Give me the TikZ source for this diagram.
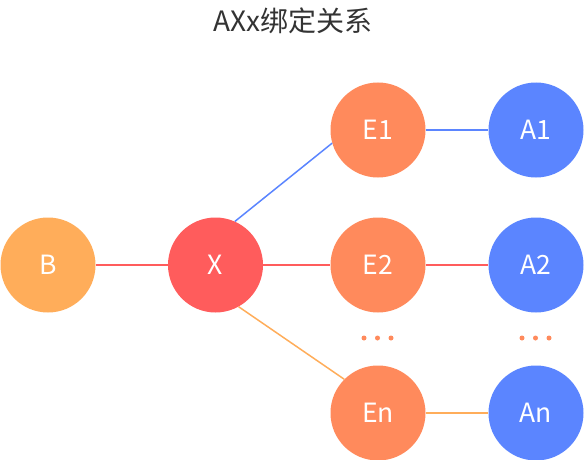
\documentclass[tikz,border=0pt]{standalone}
\usepackage{fontspec}
\setmainfont{Noto Sans CJK SC}
\definecolor{borange}{HTML}{FFAD5A}
\definecolor{xred}{HTML}{FF5C5C}
\definecolor{esalmon}{HTML}{FF8A5C}
\definecolor{ablue}{HTML}{5B85FF}
\begin{document}
\begin{tikzpicture}[x=1pt,y=-1pt]
 % node look and lines
 \tikzset{ball/.style={circle,minimum size=95pt,inner sep=0pt,text=white,font=\fontsize{26.5}{26.5}\selectfont},
  link/.style={line width=1.5pt},
  dot/.style={circle,fill=esalmon,minimum size=5pt,inner sep=0pt}}
 \useasboundingbox (0,0) rectangle (584,460);

 %title
 \node[font=\fontsize{28}{28}\selectfont,text=black!80] (title) at (293,21) {AXx绑定关系};

 %draw the balls
 \node[ball,fill=borange] (b) at (48,265) {B};
 \node[ball,fill=xred] (x) at (215.5,265) {X};
 \node[ball,fill=esalmon] (e1) at (378,130) {E1};
 \node[ball,fill=esalmon] (e2) at (378,265) {E2};
 \node[ball,fill=esalmon] (en) at (378,413) {En};
 \node[ball,fill=ablue] (a1) at (536,130) {A1};
 \node[ball,fill=ablue] (a2) at (536,265) {A2};
 \node[ball,fill=ablue] (an) at (536,413) {An};

 %links between balls
 \draw[link,xred] (b) -- (x);
 \draw[link,ablue] (x.66) -- (e1.196);
 \draw[link,xred] (x) -- (e2);
 \draw[link,borange] (x.-61) -- (en.135);
 \draw[link,ablue] (e1) -- (a1);
 \draw[link,xred] (e2) -- (a2);
 \draw[link,borange] (en) -- (an);

 %dots for the rest
 \foreach \i in {-13.5,0,13.5}{
  \node[dot] at (377.5+\i,338) {};
  \node[dot] at (535.5+\i,338) {};
 }
\end{tikzpicture}
\end{document}
